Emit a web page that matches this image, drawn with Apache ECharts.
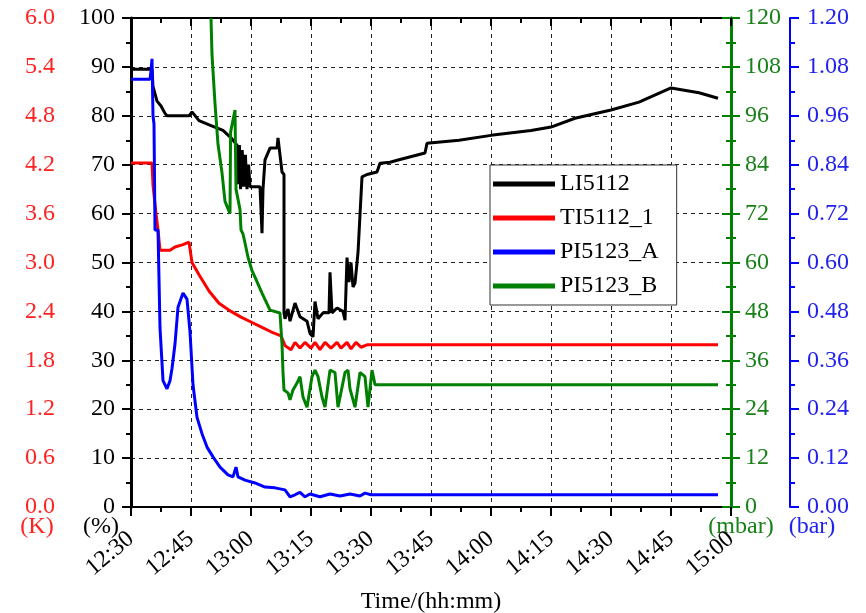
<!DOCTYPE html>
<html>
<head>
  <meta charset="utf-8" />
  <title>LI5112 / TI5112_1 / PI5123</title>
  <script src="https://cdn.jsdelivr.net/npm/echarts@6/dist/echarts.min.js"></script>
  <style>
    html, body {
      margin: 0;
      padding: 0;
      background: #fff;
    }
    #main {
      width: 866px;
      height: 613px;
    }
  </style>
</head>
<body>
<div id="main"></div>
<script>
  // x 轴：从 12:30 开始的分钟数
  var xTickLabels = ['12:30', '12:45', '13:00', '13:15', '13:30', '13:45', '14:00', '14:15', '14:30', '14:45', '15:00'];

  // LI5112 (%)
  var liMin = [0, 5.25, 5.5, 6.5, 7.5, 8.5, 9, 14.5, 15.25, 17, 20, 23, 25, 26.5,
    26.75, 27.1, 27.4, 27.8, 28.2, 28.6, 29, 29.4, 29.75, 32.25, 32.75, 33, 33.5, 34.75, 36.5, 36.75,
    37.25, 37.75, 38.25, 38.25, 38.5, 39.25, 39.75, 41, 42.25, 44, 44.75, 45.5, 46, 46.75, 48, 49.5,
    49.75, 50.25, 51.5, 53, 53.5, 54, 54.5, 55, 55.5, 56, 56.75, 57.75, 59, 61.5, 62.25, 64.75, 67,
    73.5, 74, 82, 90, 100, 105, 111, 120, 127, 135, 142, 146.75];
  var liValue = [89.5, 89.5, 86, 83, 82, 80.5, 80, 80, 80.8, 79, 78, 77, 75.5, 74,
    66, 74, 65, 73, 65.5, 72, 65, 70, 65.5, 65.5, 56, 65, 71, 73.4, 73.4, 75.5,
    72, 68.5, 68, 39.7, 38.5, 40.5, 38, 41.7, 38.9, 38, 35.5, 34.8, 42, 38.5, 39.7, 39.7,
    48, 39.7, 40.7, 40, 38.2, 51, 46, 50, 45, 45.8, 52, 67.5, 68, 68.5, 70.3, 70.5, 71,
    72.4, 74.4, 75, 76, 77, 77.7, 79.5, 81.2, 82.8, 85.7, 84.7, 83.6];

  // TI5112_1 (K)
  var tiMin = [0, 5.25, 5.5, 6.25, 6.75, 7.25, 9.75, 11, 13, 14.5, 15.25, 17, 19.5, 22, 25, 27.5,
    30, 32.5, 35, 37.5, 38.5, 40, 41, 42.25, 43.5, 45, 46, 47.25, 48.5, 50, 51.5, 52.5, 54, 55,
    56.25, 57.5, 59, 146.75];
  var tiValue = [4.22, 4.22, 3.95, 3.6, 3.4, 3.15, 3.15, 3.19, 3.22, 3.25, 3.0, 2.85, 2.65, 2.5, 2.4, 2.33,
    2.27, 2.21, 2.15, 2.1, 1.98, 1.93, 2.02, 1.95, 2.02, 1.95, 2.02, 1.93, 2.02, 1.95, 2.02, 1.95, 2.02, 1.94,
    2.02, 1.96, 1.99, 1.99];

  // PI5123_A (bar)
  var paMin = [0, 4.75, 5, 5.25, 5.5, 5.75, 6, 6.75, 7.25, 8, 8.5, 9, 9.75, 10.25, 11, 11.75, 13, 14,
    14.75, 15.5, 16.5, 17.75, 19, 20.5, 22.25, 24.25, 25.5, 26.25, 26.75, 28.5, 31, 33.5, 36, 38.5,
    39.75, 41, 42.25, 43.5, 44.75, 47.25, 49.75, 52.25, 54.75, 57.25, 58.5, 60, 146.75];
  var paValue = [1.05, 1.05, 1.07, 1.10, 0.96, 0.94, 0.68, 0.68, 0.44, 0.31, 0.31, 0.29, 0.31, 0.34, 0.40, 0.49, 0.525, 0.51,
    0.43, 0.30, 0.22, 0.18, 0.147, 0.123, 0.098, 0.079, 0.074, 0.098, 0.074, 0.066, 0.059, 0.049, 0.047, 0.042,
    0.025, 0.03, 0.036, 0.025, 0.032, 0.025, 0.032, 0.027, 0.032, 0.027, 0.034, 0.03, 0.03];

  // PI5123_B (mbar)
  var pbMin = [20, 20.25, 21, 21.75, 22.75, 23.5, 24.75, 24.9, 26, 26.25, 27.25, 27.5, 28, 28.5, 29.25,
    30.25, 31, 32.75, 34.75, 37.25, 37.75, 38, 38.25, 39.25, 39.75, 40.5, 41.5, 42.25, 43, 44, 45.25,
    46, 46.75, 47.75, 48.5, 49.75, 51, 51.75, 53.5, 54.25, 54.75, 56, 57.25, 58.5, 59.25, 60.25, 61, 146.75];
  var pbValue = [120, 111, 99, 89, 82, 75, 72, 92, 97.4, 78, 73, 68, 67, 64.8, 61.3,
    58, 56.4, 52.5, 48.3, 47.6, 40, 33, 28.7, 28, 26.3, 28.7, 30.4, 32, 27, 24.5, 32,
    33.6, 32, 27, 24.5, 33.6, 33, 24.5, 33, 33.6, 29, 24.5, 33, 32, 24.5, 33.6, 30, 30];

  function pairs(xs, ys) {
    var out = [];
    for (var i = 0; i < xs.length; i++) {
      out.push([xs[i], ys[i]]);
    }
    return out;
  }

  var FONT = 'Liberation Serif';
  var RED = '#ff0000', GREEN = '#008000', BLUE = '#0000ff';

  function yAxisBase(color, lineW) {
    return {
      type: 'value',
      axisLine: { show: true, lineStyle: { color: color, width: lineW } },
      axisTick: { show: true, length: 9, lineStyle: { color: color, width: 2 } },
      minorTick: { show: true, splitNumber: 2, length: 5, lineStyle: { color: color, width: 2 } },
      splitLine: { show: false }
    };
  }

  // 单位标注
  function unitText(txt, cx, color) {
    return {
      type: 'text',
      x: cx,
      y: 515,
      silent: true,
      style: {
        text: txt,
        fill: color,
        font: '24px "Liberation Serif"',
        align: 'center',
        textAlign: 'center',
        verticalAlign: 'top',
        textVerticalAlign: 'top'
      }
    };
  }

  var myChart = echarts.init(document.getElementById('main'));

  var redAxis = yAxisBase(RED, 2);
  redAxis.position = 'left';
  redAxis.offset = 59;
  redAxis.min = 0; redAxis.max = 6; redAxis.interval = 0.6;
  redAxis.axisLabel = { color: '#f22', fontSize: 24, fontFamily: FONT, margin: 17,
    formatter: function (v) { return v.toFixed(1); } };

  var blackAxis = yAxisBase('#000', 3);
  blackAxis.position = 'left';
  blackAxis.min = 0; blackAxis.max = 100; blackAxis.interval = 10;
  blackAxis.axisLabel = { color: '#000', fontSize: 24, fontFamily: FONT, margin: 16 };
  blackAxis.splitLine = { show: true, lineStyle: { color: '#222', width: 1, type: [4, 4] } };

  var greenAxis = yAxisBase(GREEN, 3);
  greenAxis.position = 'right';
  greenAxis.min = 0; greenAxis.max = 120; greenAxis.interval = 12;
  greenAxis.axisLabel = { color: '#1a801a', fontSize: 24, fontFamily: FONT, margin: 14 };

  // 绿色轴的内侧刻度
  var greenInner = yAxisBase(GREEN, 3);
  greenInner.position = 'right';
  greenInner.min = 0; greenInner.max = 120; greenInner.interval = 12;
  greenInner.axisTick.inside = true;
  greenInner.axisLabel = { show: false };

  var blueAxis = yAxisBase(BLUE, 2);
  blueAxis.position = 'right';
  blueAxis.offset = 59;
  blueAxis.min = 0; blueAxis.max = 1.2; blueAxis.interval = 0.12;
  blueAxis.axisLabel = { color: '#22e', fontSize: 24, fontFamily: FONT, margin: 17,
    formatter: function (v) { return v.toFixed(2); } };

  var option = {
    animation: false,
    backgroundColor: '#fff',
    textStyle: { fontFamily: FONT },
    grid: { left: 131, right: 135, top: 18, bottom: 106, outerBoundsMode: 'none', containLabel: false },
    graphic: [
      unitText('(K)', 37, '#f22'),
      unitText('(%)', 101, '#000'),
      unitText('(mbar)', 741, '#1a801a'),
      unitText('(bar)', 812, '#22e')
    ],
    legend: {
      left: 490,
      top: 165,
      orient: 'vertical',
      icon: 'rect',
      itemWidth: 62,
      itemHeight: 5,
      itemGap: 10,
      padding: [7, 18, 7, 3],
      backgroundColor: '#fff',
      borderColor: '#333',
      borderWidth: 1,
      textStyle: { color: '#000', fontSize: 24, fontFamily: FONT },
      data: ['LI5112', 'TI5112_1', 'PI5123_A', 'PI5123_B']
    },
    xAxis: [{
      type: 'value',
      position: 'bottom',
      min: 0,
      max: 150,
      interval: 15,
      axisLine: { show: true, onZero: false, lineStyle: { color: '#000', width: 2 } },
      axisTick: { show: true, length: 9, lineStyle: { color: '#000', width: 2 } },
      minorTick: { show: true, splitNumber: 2, length: 5, lineStyle: { color: '#000', width: 2 } },
      axisLabel: {
        rotate: 40, margin: 29, color: '#000', fontSize: 24, fontFamily: FONT,
        formatter: function (v) { return xTickLabels[Math.round(v / 15)]; }
      },
      splitLine: { show: true, lineStyle: { color: '#222', width: 1, type: [4, 4] } },
      name: 'Time/(hh:mm)',
      nameLocation: 'middle',
      nameGap: 83,
      nameTextStyle: { color: '#000', fontSize: 24, fontFamily: FONT }
    }, {
      type: 'value',
      position: 'top',
      min: 0,
      max: 150,
      interval: 15,
      axisLine: { show: true, onZero: false, lineStyle: { color: '#000', width: 2 } },
      axisTick: { show: true, inside: true, length: 8, lineStyle: { color: '#000', width: 2 } },
      minorTick: { show: true, splitNumber: 2, length: 5, lineStyle: { color: '#000', width: 2 } },
      axisLabel: { show: false },
      splitLine: { show: false }
    }],
    yAxis: [redAxis, blackAxis, greenAxis, blueAxis, greenInner],
    series: [{
      name: 'LI5112',
      type: 'line',
      yAxisIndex: 1,
      symbol: 'none',
      color: '#000',
      lineStyle: { color: '#000', width: 3 },
      data: pairs(liMin, liValue)
    }, {
      name: 'TI5112_1',
      type: 'line',
      yAxisIndex: 0,
      symbol: 'none',
      color: RED,
      lineStyle: { color: RED, width: 3 },
      data: pairs(tiMin, tiValue)
    }, {
      name: 'PI5123_A',
      type: 'line',
      yAxisIndex: 3,
      symbol: 'none',
      color: BLUE,
      lineStyle: { color: BLUE, width: 3 },
      data: pairs(paMin, paValue)
    }, {
      name: 'PI5123_B',
      type: 'line',
      yAxisIndex: 2,
      symbol: 'none',
      color: GREEN,
      lineStyle: { color: GREEN, width: 3 },
      data: pairs(pbMin, pbValue)
    }]
  };

  myChart.setOption(option);
</script>
</body>
</html>
